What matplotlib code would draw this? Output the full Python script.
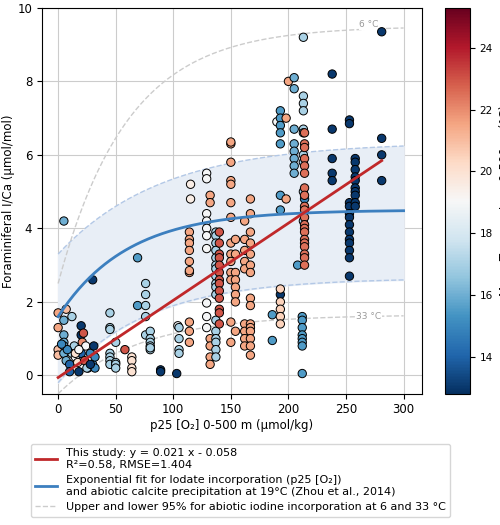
import numpy as np
import matplotlib
matplotlib.use("Agg")
import matplotlib.pyplot as plt
from matplotlib.lines import Line2D

plt.rcParams["font.size"] = 8.5

# columns of samples: (p25 O2, mean temperature, list of I/Ca values)
columns = [
    (0, 21.5, [1.7, 1.3]), (0, 21, [0.7, 0.55]), (5, 16, [4.2, 1.5, 1.1, 0.9, 0.8, 0.6]),
    (7, 21, [1.8]), (12, 17, [1.6, 0.6]), (7, 16, [0.4]), (10, 14, [0.3, 0.1]),
    (14, 17, [0.8]), (15, 19, [0.5]), (17, 20, [0.35]), (18, 13, [0.1]),
    (20, 13, [1.35, 1.1]), (20, 14, [0.6]), (21, 22, [0.9]), (22, 23, [1.15]),
    (23, 23, [0.4]), (24, 19, [0.8]), (26, 14, [0.2]), (28, 15, [0.6]),
    (30, 15, [0.3]), (32, 15, [0.5, 0.2]), (31, 13, [0.8]), (15, 20, [0.6]),
    (18, 19, [0.7]), (25, 17, [0.2]), (28, 13, [0.3]), (8, 15, [0.7]), (3, 15, [0.85]),
    (30, 13, [2.6]), (69, 15.5, [3.2, 1.9]),
    (76, 17, [2.2, 2.5, 1.9, 1.6, 1.1]), (80, 17, [1.2, 1.0, 0.9, 0.8, 0.7, 0.75]),
    (45, 17, [1.7, 1.3, 1.25, 0.6, 0.5, 0.4, 0.3]), (50, 17, [0.9, 0.35, 0.3, 0.2]),
    (58, 23, [0.7]), (64, 20, [0.5, 0.4, 0.2, 0.1]), (89, 13, [0.15, 0.1]),
    (103, 13, [0.05]), (104, 19, [1.35]), (105, 17, [1.3, 1.0, 0.7, 0.6]),
    (115, 19.5, [5.2, 4.8]), (114, 21.5, [3.9, 3.7, 3.6, 3.4, 3.1, 2.8, 2.85, 1.45, 1.2, 0.9]),
    (129, 19, [5.5, 5.35, 4.4, 4.2, 4.0, 3.8, 3.45, 1.97, 1.6, 1.3]),
    (132, 21.5, [4.9, 4.7, 1.0, 0.8, 0.5, 0.3]),
    (137, 17, [3.9, 3.8, 3.6, 3.4, 3.2, 3.0, 2.9, 2.7, 2.5, 2.4, 2.2, 1.5, 1.2, 1.0, 0.9, 0.7, 0.5]),
    (140, 23, [3.9, 3.6, 3.3, 3.2, 3.0, 2.8, 2.6, 2.5, 2.3, 2.1, 1.8, 1.7, 1.4]),
    (150, 21.5, [6.3, 6.35, 5.8, 5.3, 5.2, 4.7, 4.3, 3.6, 3.3, 3.1, 2.8, 2.6, 1.45, 0.9]),
    (154, 21.5, [3.7, 3.3, 2.8, 2.6, 2.4, 2.2, 2.0, 1.2]),
    (162, 21.5, [4.2, 3.7, 3.4, 3.1, 2.9, 1.4, 1.2, 1.0, 0.8]),
    (167, 21.5, [4.8, 4.4, 3.9, 3.6, 3.3, 3.0, 2.8, 2.1, 1.9, 1.4, 1.3, 1.2, 1.0, 0.8, 0.55]),
    (186, 15.5, [1.65, 0.95]), (190, 19, [6.9]),
    (193, 15.5, [7.2, 7.0, 6.8, 6.6, 6.3, 4.9, 4.5]), (193, 13, [2.2]),
    (193, 20.5, [2.35, 2.0, 1.8, 1.6, 1.4]), (198, 21.5, [7.0, 4.8]), (200, 21.5, [8.0]),
    (205, 16, [8.1, 7.8, 6.7, 6.3, 6.1, 5.9, 5.7, 5.5]), (208, 15.5, [3.0]),
    (213, 17, [9.2, 7.6, 7.4, 7.2, 6.7, 6.6, 6.0, 5.8, 5.0, 4.2]),
    (212, 15.5, [1.6, 1.5, 1.3, 1.1, 1.0, 0.9, 0.8, 0.05]), (214, 15, [4.8]),
    (214, 22.5, [6.6, 6.3, 6.2, 5.9, 5.7, 5.5, 5.1, 4.9, 4.6, 4.5, 4.3, 4.1, 4.0, 3.9,
                 3.7, 3.6, 3.5, 3.3, 3.2, 3.0]),
    (238, 13, [8.2, 6.7, 5.9, 5.5, 5.3]),
    (253, 13, [6.95, 6.85, 4.7, 4.6, 4.4, 4.3, 4.1, 3.9, 3.7, 3.6, 3.4, 3.2, 2.7]),
    (258, 13, [5.9, 5.8, 5.6, 5.4, 5.3, 5.1, 5.0, 4.9, 4.7, 4.6]),
    (281, 13, [9.35, 6.45, 6.0, 5.3]),
]
p25 = np.array([c[0] for c in columns for _ in c[2]], dtype=float)
temp = np.array([c[1] for c in columns for _ in c[2]], dtype=float)
ica = np.array([v for c in columns for v in c[2]], dtype=float)

slope, intercept = 0.021, -0.058

fig = plt.figure(figsize=(5, 5.25), dpi=100)
ax = fig.add_axes([0.084, 0.25, 0.76, 0.735])
cax = fig.add_axes([0.89, 0.25, 0.05, 0.735])

xs = np.linspace(0, 300, 200)
fit = 1.6 + 2.9 * (1 - np.exp(-xs / 60))
upper = 3.3 + 3.05 * (1 - np.exp(-xs / 90))
lower = -0.2 + 2.85 * (1 - np.exp(-xs / 75))
t6 = 2.5 + 7.0 * (1 - np.exp(-xs / 60))
t33 = -0.5 + 2.15 * (1 - np.exp(-xs / 70))

ax.fill_between(xs, lower, upper, color="#e8eef6", zorder=1)
ax.plot(xs, upper, "--", color="#b3c8e6", lw=1, zorder=1)
ax.plot(xs, lower, "--", color="#b3c8e6", lw=1, zorder=1)
ax.plot(xs, t6, "--", color="#cccccc", lw=1, zorder=1)
ax.plot(xs, t33, "--", color="#cccccc", lw=1, zorder=1)
ax.text(270, 9.55, "6 °C", color="#999999", fontsize=6.5, ha="center", va="center",
        bbox=dict(facecolor="white", edgecolor="none", pad=0.5))
ax.text(270, 1.6, "33 °C", color="#999999", fontsize=6.5, ha="center", va="center",
        bbox=dict(facecolor="white", edgecolor="none", pad=0.5))

sc = ax.scatter(p25, ica, c=temp, cmap="RdBu_r", vmin=12.8, vmax=25.3, s=36,
                edgecolors="black", linewidths=0.7, zorder=3)
ax.plot(xs, fit, color="#3c7fbf", lw=2, zorder=4)
xr = np.array([0, 281])
ax.plot(xr, slope * xr + intercept, color="#c0282a", lw=2, zorder=4)

ax.set_xlim(-14, 316)
ax.set_ylim(-0.5, 10)
ax.set_xticks(np.arange(0, 301, 50))
ax.set_yticks(np.arange(0, 11, 2))
ax.grid(True, color="#cccccc", lw=0.8, zorder=0)
ax.set_axisbelow(True)
ax.set_xlabel("p25 [O₂] 0-500 m (µmol/kg)", labelpad=2)
ax.set_ylabel("Foraminiferal I/Ca (µmol/mol)", labelpad=2)

cb = fig.colorbar(sc, cax=cax)
cb.set_label("Mean Temperature 0-500 m (°C)")
cb.set_ticks(np.arange(14, 25, 2))
cb.ax.tick_params(labelsize=7.5)

handles = [
    Line2D([], [], color="#c0282a", lw=2),
    Line2D([], [], color="#3c7fbf", lw=2),
    Line2D([], [], color="#cccccc", lw=1, ls="--"),
]
labels = [
    "This study: y = 0.021 x - 0.058\nR²=0.58, RMSE=1.404",
    "Exponential fit for Iodate incorporation (p25 [O₂])\nand abiotic calcite precipitation at 19°C (Zhou et al., 2014)",
    "Upper and lower 95% for abiotic iodine incorporation at 6 and 33 °C",
]
fig.legend(handles, labels, loc="lower left", bbox_to_anchor=(0.05, 0.005),
           fontsize=8, frameon=True, edgecolor="#cccccc")

fig.savefig("out.png")
